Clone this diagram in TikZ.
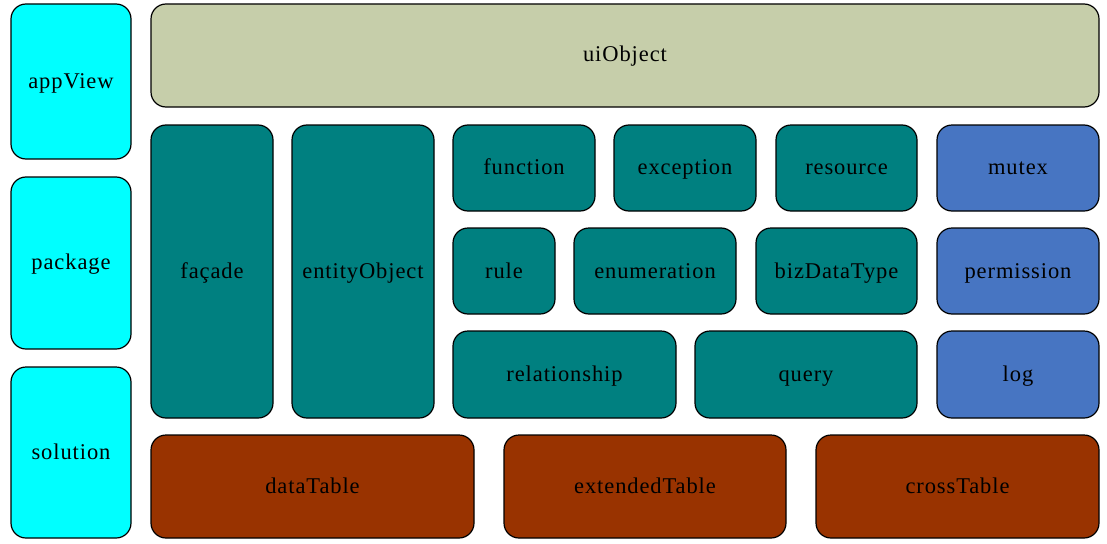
\documentclass[tikz,border=0pt]{standalone}
\usepackage{fontspec}
\setmainfont[LetterSpace=4]{Liberation Serif}
\definecolor{cyanbox}{HTML}{00FFFF}
\definecolor{olivebox}{HTML}{C6CEAA}
\definecolor{tealbox}{HTML}{008080}
\definecolor{bluebox}{HTML}{4775C2}
\definecolor{brownbox}{HTML}{993300}
\begin{document}
\begin{tikzpicture}[x=1pt,y=-1pt,
  blk/.style={draw=black,line width=1.2pt,rounded corners=15pt},
  lbl/.style={font=\fontsize{22.5}{26}\selectfont,text=black,inner sep=0pt,anchor=base}]
\useasboundingbox (0,0) rectangle (1107,543);
% left column
\draw[blk,fill=cyanbox] (11,4) rectangle (131,159);
\node[lbl] (appView) at (71,88) {appView};
\draw[blk,fill=cyanbox] (11,177) rectangle (131,349);
\node[lbl] (package) at (71,269) {package};
\draw[blk,fill=cyanbox] (11,367) rectangle (131,538);
\node[lbl] (solution) at (71,459) {solution};
% top
\draw[blk,fill=olivebox] (151,4) rectangle (1099,107);
\node[lbl] (uiObject) at (625,62) {uiObject};
% tall teal
\draw[blk,fill=tealbox] (151,125) rectangle (273,418);
\node[lbl] (facade) at (212,278) {façade};
\draw[blk,fill=tealbox] (292,125) rectangle (434,418);
\node[lbl] (entityObject) at (363,278) {entityObject};
% row 1
\draw[blk,fill=tealbox] (453,125) rectangle (595,211);
\node[lbl] (function) at (524,174) {function};
\draw[blk,fill=tealbox] (614,125) rectangle (756,211);
\node[lbl] (exception) at (685,174) {exception};
\draw[blk,fill=tealbox] (776,125) rectangle (917,211);
\node[lbl] (resource) at (846.5,174) {resource};
\draw[blk,fill=bluebox] (937,125) rectangle (1099,211);
\node[lbl] (mutex) at (1018,174) {mutex};
% row 2
\draw[blk,fill=tealbox] (453,228) rectangle (555,314);
\node[lbl] (rule) at (504,278) {rule};
\draw[blk,fill=tealbox] (574,228) rectangle (736,314);
\node[lbl] (enumeration) at (655,278) {enumeration};
\draw[blk,fill=tealbox] (756,228) rectangle (917,314);
\node[lbl] (bizDataType) at (836.5,278) {bizDataType};
\draw[blk,fill=bluebox] (937,228) rectangle (1099,314);
\node[lbl] (permission) at (1018,278) {permission};
% row 3
\draw[blk,fill=tealbox] (453,331) rectangle (676,418);
\node[lbl] (relationship) at (564.5,381) {relationship};
\draw[blk,fill=tealbox] (695,331) rectangle (917,418);
\node[lbl] (query) at (806,381) {query};
\draw[blk,fill=bluebox] (937,331) rectangle (1099,418);
\node[lbl] (log) at (1018,381) {log};
% bottom
\draw[blk,fill=brownbox] (151,435) rectangle (474,538);
\node[lbl] (dataTable) at (312.5,493) {dataTable};
\draw[blk,fill=brownbox] (504,435) rectangle (786,538);
\node[lbl] (extendedTable) at (645,493) {extendedTable};
\draw[blk,fill=brownbox] (816,435) rectangle (1099,538);
\node[lbl] (crossTable) at (957.5,493) {crossTable};
\end{tikzpicture}
\end{document}
